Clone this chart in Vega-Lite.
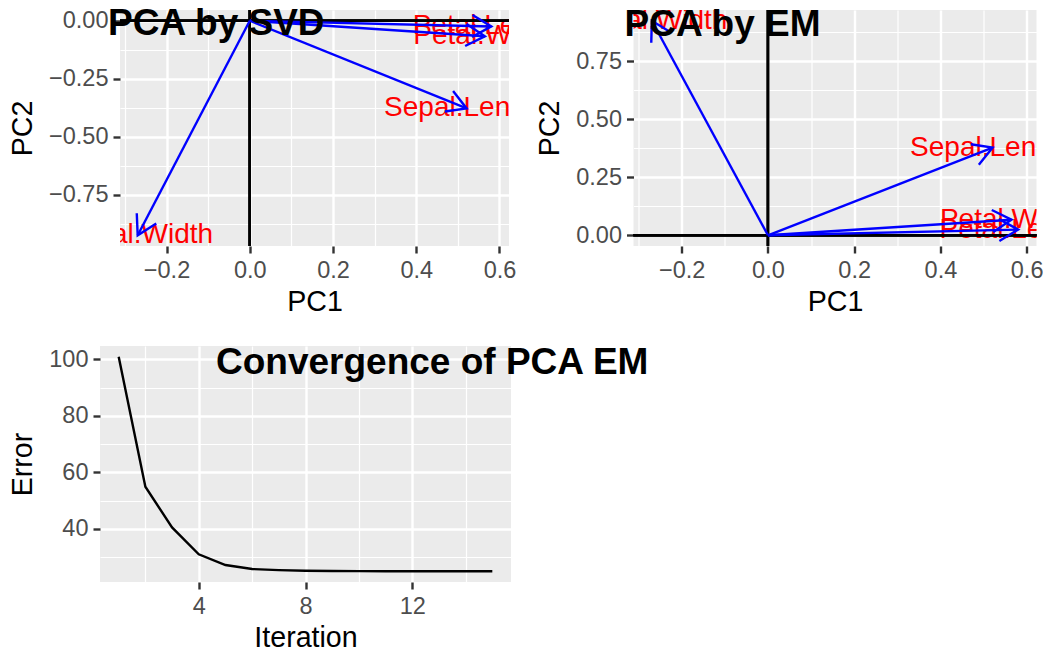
{
  "$schema": "https://vega.github.io/schema/vega-lite/v6.json",
  "background": "white",
  "padding": {"left": 8, "top": 5, "right": 0, "bottom": 0},
  "datasets": {
    "svd": [
      {"var": "Sepal.Length", "PC1": 0.5211, "PC2": -0.3774},
      {"var": "Sepal.Width", "PC1": -0.2693, "PC2": -0.9233},
      {"var": "Petal.Length", "PC1": 0.5804, "PC2": -0.0245},
      {"var": "Petal.Width", "PC1": 0.5649, "PC2": -0.0669}
    ],
    "em": [
      {"var": "Sepal.Length", "PC1": 0.5211, "PC2": 0.3774},
      {"var": "Sepal.Width", "PC1": -0.2693, "PC2": 0.9233},
      {"var": "Petal.Length", "PC1": 0.5804, "PC2": 0.0245},
      {"var": "Petal.Width", "PC1": 0.5649, "PC2": 0.0669}
    ],
    "conv": [
      {"Iteration": 1, "Error": 100.9},
      {"Iteration": 2, "Error": 54.9},
      {"Iteration": 3, "Error": 40.5},
      {"Iteration": 4, "Error": 31.0},
      {"Iteration": 5, "Error": 27.2},
      {"Iteration": 6, "Error": 25.8},
      {"Iteration": 7, "Error": 25.4},
      {"Iteration": 8, "Error": 25.2},
      {"Iteration": 9, "Error": 25.1},
      {"Iteration": 10, "Error": 25.05},
      {"Iteration": 11, "Error": 25.0},
      {"Iteration": 12, "Error": 25.0},
      {"Iteration": 13, "Error": 25.0},
      {"Iteration": 14, "Error": 25.0},
      {"Iteration": 15, "Error": 25.0}
    ]
  },
  "config": {
    "font": "Liberation Sans",
    "view": {"fill": "#EBEBEB", "stroke": null},
    "axis": {
      "domain": false,
      "tickColor": "#333333",
      "tickWidth": 2.4,
      "tickSize": 7,
      "labelColor": "#4D4D4D",
      "labelFont": "Liberation Sans",
      "labelFontSize": 23.5,
      "labelPadding": 5,
      "titleFont": "Liberation Sans",
      "titleFontSize": 28.6,
      "titleFontWeight": "normal",
      "titleColor": "black",
      "gridColor": "white",
      "gridWidth": 2.4
    },
    "axisX": {"titlePadding": 6},
    "axisY": {"titlePadding": 11},
    "title": {
      "font": "Liberation Sans",
      "fontSize": 37,
      "fontWeight": "bold",
      "color": "black",
      "anchor": "start",
      "frame": "group",
      "baseline": "alphabetic"
    }
  },
  "spacing": 26,
  "vconcat": [
    {
      "spacing": -96,
      "hconcat": [
        {
          "width": 1,
          "height": 1,
          "data": {"values": [{}]},
          "view": {"fill": null, "stroke": null},
          "mark": {"type": "point", "opacity": 0}
        },
        {
          "spacing": 19.5,
          "hconcat": [
            {
              "width": 389,
              "height": 236,
              "data": {"name": "svd"},
              "title": {"text": "PCA by SVD", "offset": -34.7, "dx": -12},
              "transform": [{"calculate": "atan2(-datum.PC2 * 232.4, datum.PC1 * 416.7) * 180 / PI", "as": "ang"}],
              "resolve": {"axis": {"x": "independent", "y": "independent"}},
              "layer": [
                {
                  "layer": [
                    {
                      "mark": {"type": "text", "color": "red", "fontSize": 28, "font": "Liberation Sans", "align": "center", "baseline": "middle", "clip": true},
                      "encoding": {
                        "x": {"field": "PC1", "type": "quantitative", "title": "PC1",
                          "scale": {"domain": [-0.3118, 0.6229], "nice": false, "zero": false},
                          "axis": {"orient": "bottom", "values": [-0.2, 0, 0.2, 0.4, 0.6], "format": ".1f"}},
                        "y": {"field": "PC2", "type": "quantitative", "title": "PC2",
                          "scale": {"domain": [-0.9695, 0.0462], "nice": false, "zero": false},
                          "axis": {"orient": "left", "values": [0, -0.25, -0.5, -0.75], "format": ".2f"}},
                        "text": {"field": "var"}
                      }
                    },
                    {"mark": {"type": "rule", "color": "black", "strokeWidth": 2.4}, "encoding": {"x": {"datum": 0, "type": "quantitative"}}},
                    {"mark": {"type": "rule", "color": "black", "strokeWidth": 2.4}, "encoding": {"y": {"datum": 0, "type": "quantitative"}}},
                    {
                      "mark": {"type": "rule", "color": "blue", "strokeWidth": 2.4},
                      "encoding": {
                        "x": {"field": "PC1", "type": "quantitative"},
                        "y": {"field": "PC2", "type": "quantitative"},
                        "x2": {"datum": 0},
                        "y2": {"datum": 0}
                      }
                    },
                    {
                      "mark": {"type": "point", "shape": "M-0.866,-0.5L0,0L-0.866,0.5", "size": 1936, "filled": false, "color": "blue", "strokeWidth": 2.4, "opacity": 1},
                      "encoding": {
                        "x": {"field": "PC1", "type": "quantitative"},
                        "y": {"field": "PC2", "type": "quantitative"},
                        "angle": {"field": "ang", "type": "quantitative", "scale": null}
                      }
                    }
                  ]
                },
                {
                  "mark": {"type": "point", "opacity": 0},
                  "encoding": {
                    "x": {"field": "PC1", "type": "quantitative",
                      "axis": {"orient": "top", "values": [-0.3, -0.1, 0.1, 0.3, 0.5], "grid": true, "gridWidth": 1.2, "labels": false, "ticks": false, "domain": false, "title": null}},
                    "y": {"field": "PC2", "type": "quantitative",
                      "axis": {"orient": "right", "values": [-0.875, -0.625, -0.375, -0.125], "grid": true, "gridWidth": 1.2, "labels": false, "ticks": false, "domain": false, "title": null}}
                  }
                }
              ]
            },
            {
              "width": 403,
              "height": 236,
              "data": {"name": "em"},
              "title": {"text": "PCA by EM", "offset": -34.7, "dx": -9},
              "transform": [{"calculate": "atan2(-datum.PC2 * 231.5, datum.PC1 * 431.7) * 180 / PI", "as": "ang"}],
              "resolve": {"axis": {"x": "independent", "y": "independent"}},
              "layer": [
                {
                  "layer": [
                    {
                      "mark": {"type": "text", "color": "red", "fontSize": 28, "font": "Liberation Sans", "align": "center", "baseline": "middle", "clip": true},
                      "encoding": {
                        "x": {"field": "PC1", "type": "quantitative", "title": "PC1",
                          "scale": {"domain": [-0.3118, 0.6229], "nice": false, "zero": false},
                          "axis": {"orient": "bottom", "values": [-0.2, 0, 0.2, 0.4, 0.6], "format": ".1f"}},
                        "y": {"field": "PC2", "type": "quantitative", "title": "PC2",
                          "scale": {"domain": [-0.0462, 0.9695], "nice": false, "zero": false},
                          "axis": {"orient": "left", "values": [0, 0.25, 0.5, 0.75], "format": ".2f"}},
                        "text": {"field": "var"}
                      }
                    },
                    {"mark": {"type": "rule", "color": "black", "strokeWidth": 2.4}, "encoding": {"x": {"datum": 0, "type": "quantitative"}}},
                    {"mark": {"type": "rule", "color": "black", "strokeWidth": 2.4}, "encoding": {"y": {"datum": 0, "type": "quantitative"}}},
                    {
                      "mark": {"type": "rule", "color": "blue", "strokeWidth": 2.4},
                      "encoding": {
                        "x": {"field": "PC1", "type": "quantitative"},
                        "y": {"field": "PC2", "type": "quantitative"},
                        "x2": {"datum": 0},
                        "y2": {"datum": 0}
                      }
                    },
                    {
                      "mark": {"type": "point", "shape": "M-0.866,-0.5L0,0L-0.866,0.5", "size": 1936, "filled": false, "color": "blue", "strokeWidth": 2.4, "opacity": 1},
                      "encoding": {
                        "x": {"field": "PC1", "type": "quantitative"},
                        "y": {"field": "PC2", "type": "quantitative"},
                        "angle": {"field": "ang", "type": "quantitative", "scale": null}
                      }
                    }
                  ]
                },
                {
                  "mark": {"type": "point", "opacity": 0},
                  "encoding": {
                    "x": {"field": "PC1", "type": "quantitative",
                      "axis": {"orient": "top", "values": [-0.3, -0.1, 0.1, 0.3, 0.5], "grid": true, "gridWidth": 1.2, "labels": false, "ticks": false, "domain": false, "title": null}},
                    "y": {"field": "PC2", "type": "quantitative",
                      "axis": {"orient": "right", "values": [0.125, 0.375, 0.625, 0.875], "grid": true, "gridWidth": 1.2, "labels": false, "ticks": false, "domain": false, "title": null}}
                  }
                }
              ]
            }
          ]
        }
      ]
    },
    {
      "width": 411,
      "height": 236,
      "data": {"name": "conv"},
      "title": {"text": "Convergence of PCA EM", "offset": -35.7, "dx": 116},
      "resolve": {"axis": {"x": "independent", "y": "independent"}},
      "layer": [
        {
          "mark": {"type": "line", "color": "black", "strokeWidth": 2.4},
          "encoding": {
            "x": {"field": "Iteration", "type": "quantitative", "title": "Iteration",
              "scale": {"domain": [0.3, 15.7], "nice": false, "zero": false},
              "axis": {"orient": "bottom", "values": [4, 8, 12]}},
            "y": {"field": "Error", "type": "quantitative", "title": "Error",
              "scale": {"domain": [21.2, 104.7], "nice": false, "zero": false},
              "axis": {"orient": "left", "values": [40, 60, 80, 100]}}
          }
        },
        {
          "mark": {"type": "point", "opacity": 0},
          "encoding": {
            "x": {"field": "Iteration", "type": "quantitative",
              "axis": {"orient": "top", "values": [2, 6, 10, 14], "grid": true, "gridWidth": 1.2, "labels": false, "ticks": false, "domain": false, "title": null}},
            "y": {"field": "Error", "type": "quantitative",
              "axis": {"orient": "right", "values": [30, 50, 70, 90], "grid": true, "gridWidth": 1.2, "labels": false, "ticks": false, "domain": false, "title": null}}
          }
        }
      ]
    }
  ]
}
